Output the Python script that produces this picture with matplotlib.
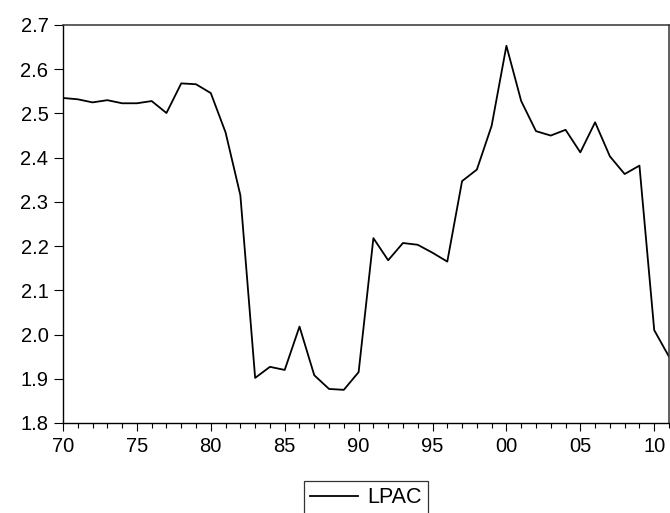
import matplotlib
matplotlib.use("Agg")
import matplotlib.pyplot as plt
from matplotlib.ticker import MultipleLocator

plt.rcParams['font.family'] = ['Liberation Sans', 'DejaVu Sans']

years = list(range(1970, 2012))
lpac = [2.535, 2.532, 2.525, 2.530, 2.523, 2.523, 2.528, 2.501, 2.568, 2.566,
        2.546, 2.457, 2.315, 1.902, 1.927, 1.920, 2.018, 1.908, 1.877, 1.875,
        1.915, 2.218, 2.168, 2.207, 2.203, 2.185, 2.165, 2.347, 2.373, 2.472,
        2.653, 2.528, 2.460, 2.450, 2.463, 2.412, 2.480, 2.403, 2.363, 2.382,
        2.010, 1.950]
series_name = "LPAC"
xtick_years = [1970, 1975, 1980, 1985, 1990, 1995, 2000, 2005, 2010]
xtick_labels = ["70", "75", "80", "85", "90", "95", "00", "05", "10"]
yticks = [1.8, 1.9, 2.0, 2.1, 2.2, 2.3, 2.4, 2.5, 2.6, 2.7]

W, H = 670, 513
fig = plt.figure(figsize=(W / 100, H / 100), dpi=100)
ax = fig.add_axes([63 / W, 1 - 423 / H, (669 - 63) / W, (423 - 25) / H])

line, = ax.plot(years, lpac, color='black', lw=1.3, label=series_name)

ax.set_xlim(1970, 2011)
ax.set_ylim(1.8, 2.7)
ax.set_yticks(yticks)
ax.set_yticklabels([f"{v:.1f}" for v in yticks])
ax.set_xticks(xtick_years)
ax.set_xticklabels(xtick_labels)
ax.xaxis.set_minor_locator(MultipleLocator(1))

ax.tick_params(axis='y', which='major', direction='out', length=6.5, width=0.8,
               labelsize=14.5, pad=4, colors='black')
ax.tick_params(axis='x', which='major', direction='out', length=6, width=0.8,
               labelsize=14.5, pad=4)
ax.tick_params(axis='x', which='minor', direction='out', length=3.5, width=0.8)
ax.tick_params(top=False, right=False)

for side in ['top', 'right']:
    ax.spines[side].set_linewidth(1.1)
    ax.spines[side].set_color('#333333')
for side in ['left', 'bottom']:
    ax.spines[side].set_linewidth(1.0)
    ax.spines[side].set_color('black')

leg = fig.legend(handles=[line], loc='upper center',
                 bbox_to_anchor=(366 / W, 1 - 481 / H),
                 fontsize=15.5, frameon=True, fancybox=False,
                 handlelength=2.2, handletextpad=0.45, borderpad=0.3,
                 borderaxespad=0)
leg.get_frame().set_edgecolor('black')
leg.get_frame().set_linewidth(0.9)

fig.savefig("out.png", dpi=100)
